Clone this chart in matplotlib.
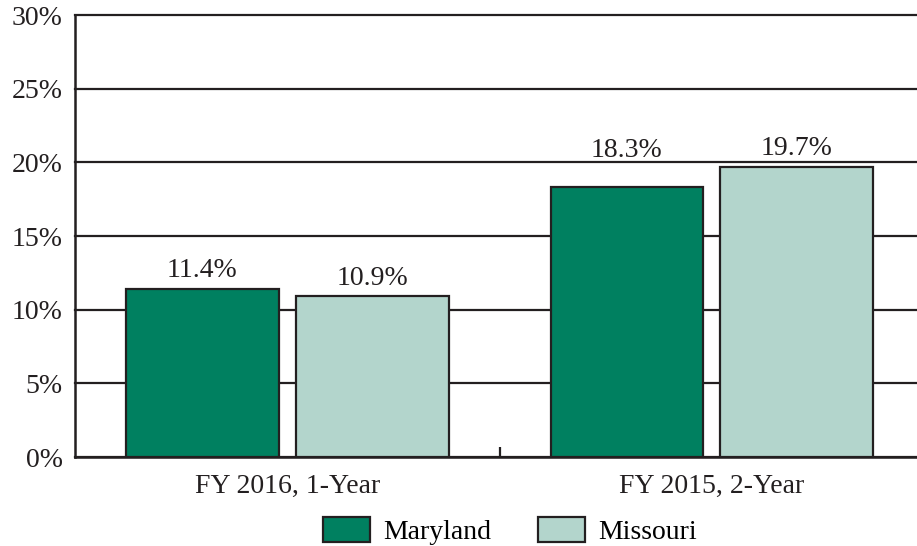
import numpy as np
from matplotlib import pyplot as plt
from matplotlib.patches import Patch

plt.rcParams['font.family'] = ['Liberation Serif', 'DejaVu Serif']

# Data
groups = ['FY 2016, 1-Year', 'FY 2015, 2-Year']
states = ['Maryland', 'Missouri']
maryland = [11.4, 18.3]
missouri = [10.9, 19.7]
colors = ['#008060', '#b3d5cc']
edge = '#231f20'
yticks = list(range(0, 31, 5))

fig = plt.figure(figsize=(9.17, 5.46), dpi=100)
ax = fig.add_axes([0.0818, 0.163, 0.926, 0.8095])

x = np.arange(len(groups))
width = 0.36
offsets = [-0.2, 0.2]


def label_y(v, gap=0.8, height=1.4):
    # keep value labels clear of the gridlines
    y = v + gap
    for g in yticks:
        if y < g < y + height:
            return g + 0.35
    return y


for vals, off, col in zip([maryland, missouri], offsets, colors):
    bars = ax.bar(x + off, vals, width, color=col, edgecolor=edge,
                  linewidth=1.6, zorder=3)
    for b, v in zip(bars, vals):
        ax.text(b.get_x() + b.get_width() / 2, label_y(v), f'{v:.1f}%',
                ha='center', va='baseline', fontsize=20, color=edge)

# Format plot
ax.set_ylim(0, 30)
ax.set_xlim(-0.5, 1.5)
ax.set_yticks(yticks)
ax.set_yticklabels([f'{t}%' for t in yticks], fontsize=20, color=edge)
ax.yaxis.grid(True, color=edge, linewidth=1.6, zorder=0)
for gl in ax.get_ygridlines():
    gl.set_clip_on(False)
ax.set_axisbelow(True)
ax.tick_params(axis='y', length=0, pad=9)

ax.set_xticks(x)
ax.set_xticklabels(groups, fontsize=20, color=edge)
ax.tick_params(axis='x', which='major', length=0, pad=12)
ax.set_xticks([0.5], minor=True)
ax.tick_params(axis='x', which='minor', direction='in', length=7, width=1.6, color=edge)

for s in ['top', 'right']:
    ax.spines[s].set_visible(False)
for s in ['left', 'bottom']:
    ax.spines[s].set_color(edge)
    ax.spines[s].set_linewidth(1.8)

handles = [Patch(facecolor=c, edgecolor=edge, linewidth=1.6) for c in colors]
fig.legend(handles, states, loc='center', bbox_to_anchor=(0.556, 0.027), ncol=2,
           frameon=False, fontsize=20, handlelength=1.7, handleheight=1.0,
           columnspacing=1.7, handletextpad=0.47, borderpad=0.1)

fig.savefig('out.png', dpi=100)
